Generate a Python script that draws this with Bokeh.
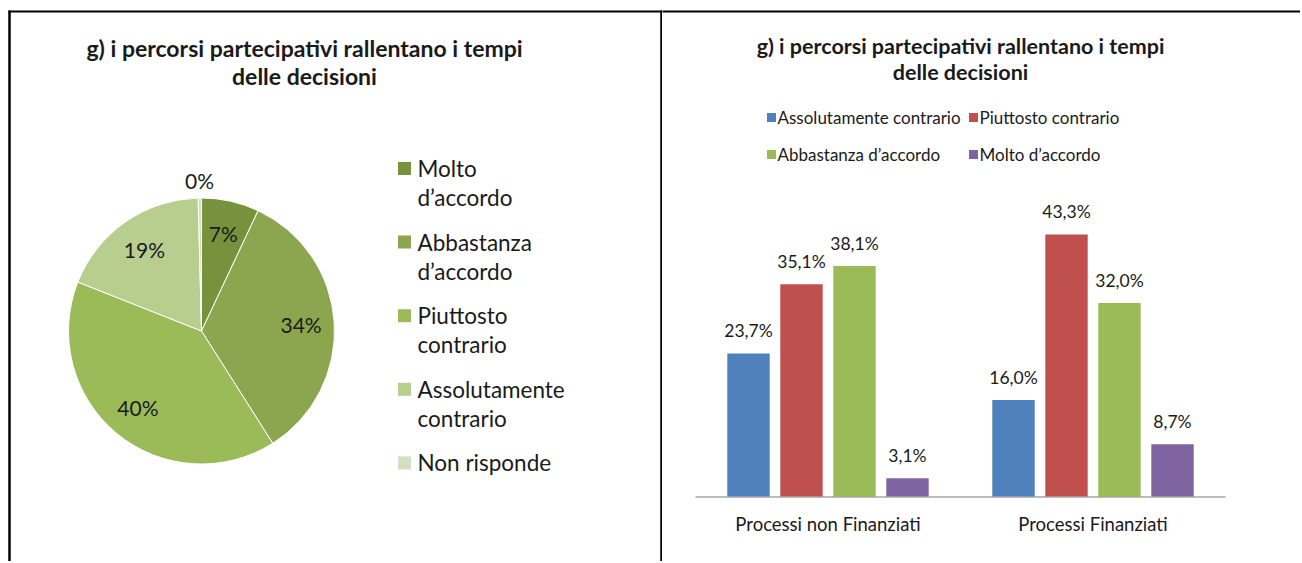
import math
from bokeh.plotting import figure
from bokeh.models import Range1d
from bokeh.layouts import row
from bokeh.embed import file_html
from bokeh.resources import INLINE
from bokeh.core.properties import value

# ---------------- data ----------------
title_lines = ["g) i percorsi partecipativi rallentano i tempi", "delle decisioni"]

pie_categories = ["Molto d’accordo", "Abbastanza d’accordo", "Piuttosto contrario",
                  "Assolutamente contrario", "Non risponde"]
pie_values = [7.0, 34.0, 40.0, 18.6, 0.4]
pie_colors = ["#76923C", "#8BA64F", "#9BBB59", "#B8CE8F", "#D3E0BD"]

bar_categories = ["Processi non Finanziati", "Processi Finanziati"]
bar_series = ["Assolutamente contrario", "Piuttosto contrario", "Abbastanza d’accordo", "Molto d’accordo"]
assolutamente = [23.7, 16.0]
piuttosto = [35.1, 43.3]
abbastanza = [38.1, 32.0]
molto = [3.1, 8.7]
bar_colors = ["#4F81BD", "#C0504D", "#9BBB59", "#8064A2"]

FONT = value("Lato")
TXT = "#1A1A1A"
H = 561

# ---------------- left: pie ----------------
LW = 662
left = figure(width=LW, height=H, output_backend="svg", toolbar_location=None,
              x_range=Range1d(0, LW), y_range=Range1d(0, H), min_border=0)
left.axis.visible = False
left.grid.visible = False
left.outline_line_color = None

def L(ix, iy):  # image px -> left data
    return ix, H - iy

cx, cy = L(201, 330.5)
R = 133
total = sum(pie_values)
cum = 0.0
starts, ends, mids = [], [], []
for v in pie_values:
    a0 = cum / total
    cum += v
    a1 = cum / total
    starts.append(math.pi / 2 - 2 * math.pi * a1)
    ends.append(math.pi / 2 - 2 * math.pi * a0)
    mids.append(math.pi / 2 - math.pi * (a0 + a1))
left.wedge(x=cx, y=cy, radius=R, start_angle=starts, end_angle=ends,
           fill_color=pie_colors, line_color="white", line_width=1)

lx, ly, lt = [], [], []
for v, m in zip(pie_values, mids):
    f = 0.75 if v >= 1 else 1.13
    lx.append(cx + f * R * math.cos(m))
    ly.append(cy + f * R * math.sin(m))
    lt.append(f"{round(v)}%")
left.text(x=lx, y=ly, text=lt, text_align="center", text_baseline="middle",
          text_font=FONT, text_font_size="21px", text_color=TXT)

# title
tx, ty0 = L(304, 47)
for i, line in enumerate(title_lines):
    left.text(x=[tx], y=[ty0 - 28 * i], text=[line], text_align="center", text_baseline="middle",
              text_font=FONT, text_font_size="23px", text_font_style="bold", text_color=TXT)

# legend
sqx, y0 = L(404, 168)
pitch = 73.6
for i, (name, col) in enumerate(zip(pie_categories, pie_colors)):
    yy = y0 - i * pitch
    left.scatter(x=[sqx], y=[yy], marker="square", size=13, fill_color=col, line_color=None)
    parts = name.split(" ", 1) if len(name) > 12 else [name]
    for j, part in enumerate(parts):
        left.text(x=[sqx + 13], y=[yy - 29 * j], text=[part], text_align="left", text_baseline="middle",
                  text_font=FONT, text_font_size="22.5px", text_color=TXT)

# borders (table frame)
tl_x, tl_y = L(8, 11)
_, bot_y = L(0, H + 5)
left.segment(x0=[tl_x], y0=[tl_y], x1=[LW + 1], y1=[tl_y], line_color="black", line_width=2)
left.segment(x0=[L(9, 0)[0], L(661, 0)[0]], y0=[tl_y + 1] * 2, x1=[L(9, 0)[0], L(661, 0)[0]],
             y1=[bot_y] * 2, line_color="black", line_width=2.5)

# ---------------- right: bars ----------------
RW = 638
X0, CW = 695, 265.0          # image px of category axis start, px per category
BASE, PPU = 496.5, 6.06      # image px of baseline, px per percent unit
x_start = (662 - X0) / CW
y_top = BASE / PPU
right = figure(width=RW, height=H, output_backend="svg", toolbar_location=None,
               x_range=Range1d(x_start, x_start + RW / CW),
               y_range=Range1d(y_top - H / PPU, y_top), min_border=0)
right.axis.visible = False
right.grid.visible = False
right.outline_line_color = None

def Rr(ix, iy):  # image px -> right data
    return (ix - X0) / CW, (BASE - iy) / PPU

series_values = [assolutamente, piuttosto, abbastanza, molto]
n = len(bar_series)
for k, (vals, col) in enumerate(zip(series_values, bar_colors)):
    xs = [i + 0.5 + (k - (n - 1) / 2) * 0.2 for i in range(len(bar_categories))]
    right.vbar(x=xs, top=vals, bottom=0, width=0.16, fill_color=col, line_color=None)
    right.text(x=xs, y=vals, text=[f"{v:.1f}%".replace(".", ",") for v in vals],
               text_align="center", text_baseline="middle", y_offset=-23,
               text_font=FONT, text_font_size="17.5px", text_color=TXT)

right.segment(x0=[0], y0=[0], x1=[len(bar_categories)], y1=[0], line_color="#A6A6A6", line_width=1.5)
right.text(x=[i + 0.5 for i in range(len(bar_categories))], y=[0] * len(bar_categories),
           text=bar_categories, y_offset=27, text_align="center", text_baseline="middle",
           text_font=FONT, text_font_size="18.5px", text_color=TXT)

# title
_, rty = Rr(0, 45)
for i, line in enumerate(title_lines):
    right.text(x=[len(bar_categories) / 2], y=[rty - 26 / PPU * i], text=[line], text_align="center",
               text_baseline="middle", text_font=FONT, text_font_size="21.5px",
               text_font_style="bold", text_color=TXT)

# legend (2 columns)
col_px = [771, 973]
row_px = [117, 154]
for k, (name, col) in enumerate(zip(bar_series, bar_colors)):
    gx, gy = Rr(col_px[k % 2], row_px[k // 2])
    right.scatter(x=[gx], y=[gy], marker="square", size=9, fill_color=col, line_color=None)
    right.text(x=[gx + 6 / CW], y=[gy], text=[name], text_align="left", text_baseline="middle",
               text_font=FONT, text_font_size="17px", text_color=TXT)

# top border continues
rx0, ry = Rr(661, 11)
rx1, _ = Rr(662 + RW + 2, 11)
right.segment(x0=[rx0], y0=[ry], x1=[rx1], y1=[ry], line_color="black", line_width=2)

layout = row(left, right)
open("out.html", "w").write(file_html(layout, INLINE))
